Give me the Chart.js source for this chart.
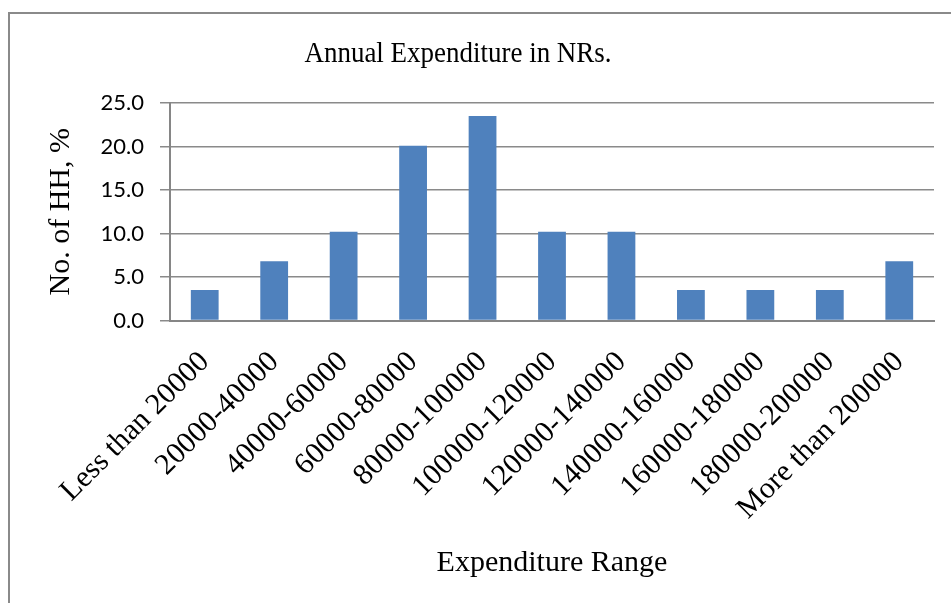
<!DOCTYPE html>
<html>
<head>
<meta charset="utf-8">
<script src="https://cdn.jsdelivr.net/npm/chart.js@4.4.1/dist/chart.umd.min.js"></script>
<style>
  html, body { margin: 0; padding: 0; background: #ffffff; }
  #wrap { position: relative; width: 951px; height: 603px; overflow: hidden; background: #fff; }
  #frame { position: absolute; left: 8px; top: 12px; width: 1000px; height: 700px; border-left: 2px solid #8a8a8a; border-top: 2px solid #8a8a8a; box-sizing: border-box; }
  canvas { position: absolute; left: 0; top: 0; }
</style>
</head>
<body>
<div id="wrap">
  <div id="frame"></div>
  <canvas id="c" width="951" height="603"></canvas>
</div>
<script>
const chartTitle = "Annual Expenditure in NRs.";
const xAxisTitle = "Expenditure Range";
const yAxisTitle = "No. of HH, %";
const categories = ["Less than 20000", "20000-40000", "40000-60000", "60000-80000", "80000-100000", "100000-120000", "120000-140000", "140000-160000", "160000-180000", "180000-200000", "More than 200000"];
const households = [3.5, 6.8, 10.2, 20.1, 23.5, 10.2, 10.2, 3.5, 3.5, 3.5, 6.8];
const yTicks = [0, 5, 10, 15, 20, 25];

const titlePlugin = {
  id: 'customTitle',
  afterDraw(chart) {
    const ctx = chart.ctx;
    ctx.save();
    ctx.font = '29px "Liberation Serif", "Times New Roman", serif';
    ctx.fillStyle = '#000';
    ctx.textAlign = 'center';
    ctx.textBaseline = 'alphabetic';
    ctx.translate(458, 62);
    ctx.scale(0.93, 1);
    ctx.fillText(chartTitle, 0, 0);
    ctx.restore();
  }
};

new Chart(document.getElementById('c'), {
  type: 'bar',
  data: {
    labels: categories,
    datasets: [{
      data: households,
      backgroundColor: '#4F81BD',
      borderWidth: 0,
      barPercentage: 0.4,
      categoryPercentage: 1.0
    }]
  },
  options: {
    responsive: false,
    animation: false,
    events: [],
    layout: { padding: { top: 103, right: 17, left: 0, bottom: 0 } },
    plugins: { legend: { display: false }, title: { display: false }, tooltip: { enabled: false } },
    scales: {
      x: {
        grid: { display: false, drawTicks: false },
        border: { display: true, color: '#868686', width: 2 },
        ticks: {
          maxRotation: 45, minRotation: 45, autoSkip: false, padding: 24,
          color: '#000',
          font: { family: '"Liberation Serif", "Times New Roman", serif', size: 30 }
        },
        title: {
          display: true, text: xAxisTitle, color: '#000',
          font: { family: '"Liberation Serif", "Times New Roman", serif', size: 30 },
          padding: { top: 0, bottom: 22 }
        },
        afterFit(scale) { scale.height = 603 - 320.5; }
      },
      y: {
        min: 0, max: 25,
        afterBuildTicks(scale) { scale.ticks = yTicks.map(v => ({ value: v })); },
        grid: { color: '#8a8a8a', lineWidth: 1.5, tickLength: 10, tickColor: '#8a8a8a' },
        border: { display: true, color: '#868686', width: 2 },
        ticks: {
          padding: 16, color: '#000',
          font: { family: 'Lato, "Liberation Sans", sans-serif', size: 22 },
          callback: (v) => Number(v).toFixed(1)
        },
        title: {
          display: true, text: yAxisTitle, color: '#000',
          font: { family: '"Liberation Serif", "Times New Roman", serif', size: 30 },
          padding: { top: 43, bottom: 0 }
        },
        afterFit(scale) { scale.width = 170; }
      }
    }
  },
  plugins: [titlePlugin]
});
</script>
</body>
</html>
